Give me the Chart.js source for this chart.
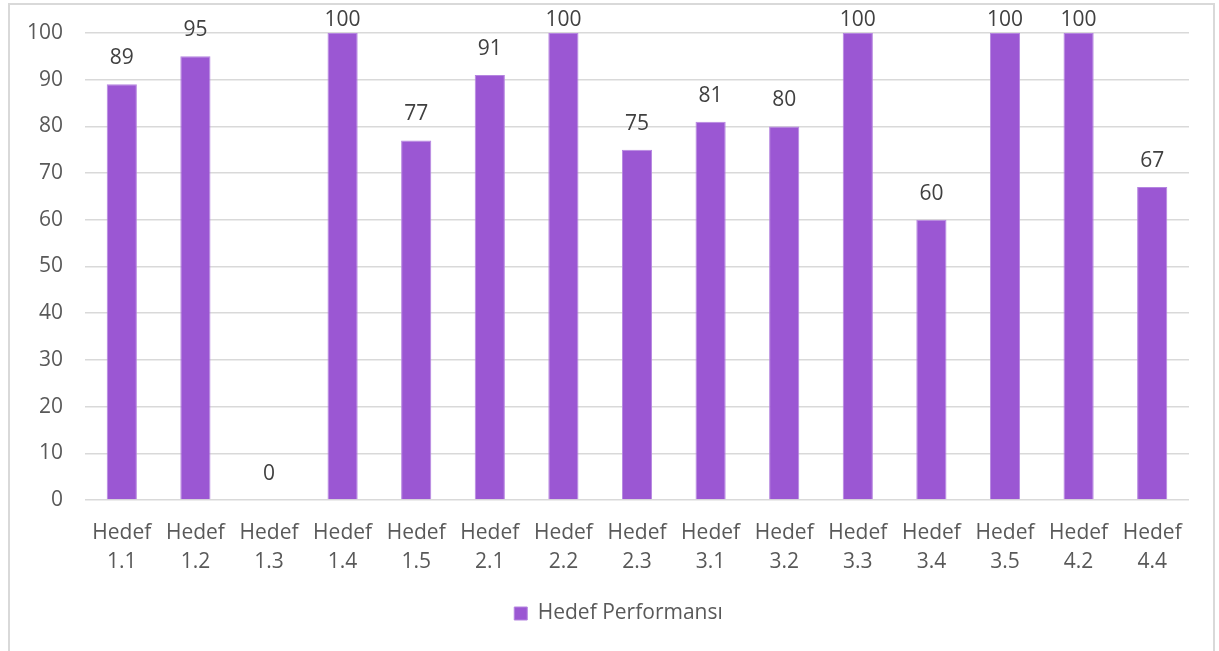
<!DOCTYPE html>
<html>
<head>
<meta charset="utf-8">
<script src="https://cdn.jsdelivr.net/npm/chart.js@4.4.0/dist/chart.umd.min.js"></script>
<style>
  html, body { margin: 0; padding: 0; background: #ffffff; }
  #wrap { position: absolute; left: 0; top: 0; width: 1219px; height: 651px; }
  #frame { position: absolute; left: 8px; top: 3px; width: 1207px; height: 700px; border: 2px solid #d9d9d9; box-sizing: border-box; }
  canvas { position: absolute; left: 0; top: 0; }
</style>
</head>
<body>
<div id="wrap">
  <div id="frame"></div>
  <canvas id="c" width="1219" height="651"></canvas>
</div>
<script>
const categories = ['1.1','1.2','1.3','1.4','1.5','2.1','2.2','2.3','3.1','3.2','3.3','3.4','3.5','4.2','4.4'];
const categoryPrefix = 'Hedef';
const seriesName = 'Hedef Performansı';
const performance = [89, 95, 0, 100, 77, 91, 100, 75, 81, 80, 100, 60, 100, 100, 67];
const yTicks = { min: 0, max: 100, step: 10 };

const FONT = '"Open Sans", "DejaVu Sans", sans-serif';
const TEXT = '#595959';
const FS = 21;

const valueLabels = {
  id: 'valueLabels',
  afterDatasetsDraw(chart) {
    const ctx = chart.ctx;
    const meta = chart.getDatasetMeta(0);
    const data = chart.data.datasets[0].data;
    ctx.save();
    ctx.font = FS + 'px ' + FONT;
    ctx.fillStyle = '#404040';
    ctx.textAlign = 'center';
    ctx.textBaseline = 'middle';
    meta.data.forEach((bar, i) => {
      const y = Math.max(bar.y - 26, 20);
      ctx.fillText(String(data[i]), bar.x, y);
    });
    ctx.restore();
  }
};

const legendShift = {
  id: 'legendShift',
  afterLayout(chart) {
    if (chart.legend) { chart.legend.left += 24; chart.legend.right += 24; }
  }
};

new Chart(document.getElementById('c'), {
  type: 'bar',
  data: {
    labels: categories.map(c => [categoryPrefix, c]),
    datasets: [{
      label: seriesName,
      data: performance,
      backgroundColor: '#9b57d3',
      borderColor: '#b585e0',
      borderWidth: 1,
      categoryPercentage: 1,
      barPercentage: 0.41
    }]
  },
  options: {
    responsive: false,
    animation: false,
    layout: { padding: { left: 0, right: 30, top: 33, bottom: 17 } },
    scales: {
      x: {
        grid: { display: false, drawTicks: false },
        border: { display: false },
        ticks: {
          color: TEXT,
          font: { family: FONT, size: FS, lineHeight: 1.38 },
          maxRotation: 0,
          minRotation: 0,
          padding: 19,
          autoSkip: false
        },
        afterFit(scale) { scale.height = 93; scale.paddingLeft = 0; scale.paddingRight = 0; }
      },
      y: {
        min: yTicks.min,
        max: yTicks.max,
        grid: { color: '#d9d9d9', lineWidth: 1.5, drawTicks: false },
        border: { display: false },
        ticks: {
          stepSize: yTicks.step,
          color: TEXT,
          font: { family: FONT, size: FS },
          padding: 22
        },
        afterFit(scale) { scale.width = 85; scale.paddingTop = 0; scale.paddingBottom = 0; }
      }
    },
    plugins: {
      legend: {
        position: 'bottom',
        labels: {
          color: TEXT,
          font: { family: FONT, size: FS },
          boxWidth: 13,
          boxHeight: 13,
          padding: 10
        }
      },
      tooltip: { enabled: false }
    }
  },
  plugins: [valueLabels, legendShift]
});
</script>
</body>
</html>
